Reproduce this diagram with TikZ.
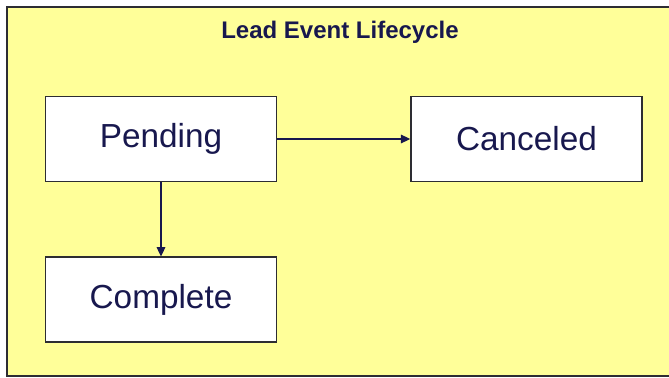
\documentclass[tikz,border=0pt]{standalone}
\usepackage{fontspec}
\setmainfont{Liberation Sans}
\usetikzlibrary{arrows.meta,positioning}

\definecolor{padyellow}{RGB}{255,255,153}
\definecolor{inknavy}{RGB}{24,24,78}
\definecolor{edgegray}{RGB}{45,45,50}

\begin{document}
\begin{tikzpicture}[
    x=0.75pt, y=-0.75pt,
    node distance=55.7pt and 99.75pt,
    state/.style={rectangle, draw=edgegray, fill=white, line width=1.1pt,
                  minimum width=173.25pt, minimum height=63.75pt,
                  inner sep=0pt, text=inknavy, font=\fontsize{25}{30}\selectfont},
    trans/.style={-{Triangle[length=7pt,width=6.5pt]}, draw=inknavy, line width=0.8pt}
]
  % Frame
  \clip (0,0) rectangle (669,378);
  \fill[white] (0,0) rectangle (669,378);
  \draw[fill=padyellow, draw=edgegray, line width=1pt] (7,7) rectangle (680,376);

  \node[text=inknavy, font=\bfseries\fontsize{18}{22}\selectfont] (title) at (340,32) {Lead Event Lifecycle};

  % States
  \node[state] (pending) at (161,139) {Pending};
  \node[state, right=of pending] (canceled) {Canceled};
  \node[state, below=of pending] (complete) {Complete};

  % Transitions
  \draw[trans] (pending) -- (canceled);
  \draw[trans] (pending) -- (complete);

\end{tikzpicture}
\end{document}
